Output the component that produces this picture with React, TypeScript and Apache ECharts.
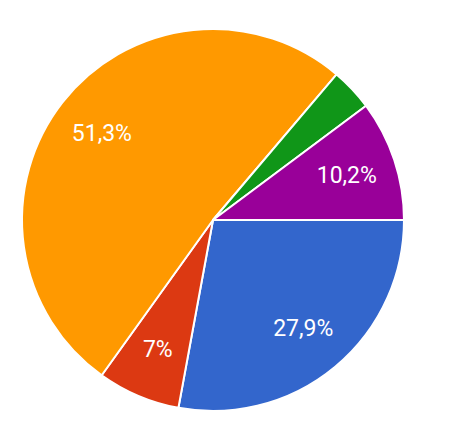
import React, { useEffect, useRef } from "react";
import * as echarts from "echarts";

const categories = ["A", "B", "C", "D", "E"];
const values = [27.9, 7, 51.3, 3.6, 10.2];
const labels = ["27,9%", "7%", "51,3%", "", "10,2%"];
const colors = ["#3366cc", "#dc3912", "#ff9900", "#109618", "#990099"];

export default function App() {
  const ref = useRef<HTMLDivElement>(null);
  useEffect(() => {
    if (!ref.current) return;
    const chart = echarts.init(ref.current, undefined, { renderer: "svg" });
    const data = categories.map((c, i) => ({
      name: c,
      value: values[i],
      itemStyle: { color: colors[i] },
    }));
    chart.setOption({
      animation: false,
      series: [
        {
          type: "pie",
          center: [213, 220],
          radius: [0, 191],
          startAngle: 0,
          clockwise: true,
          silent: true,
          data,
          itemStyle: { borderColor: "#ffffff", borderWidth: 2 },
          label: { show: false },
          labelLine: { show: false },
        },
        {
          type: "pie",
          center: [213, 220],
          radius: [85, 191],
          startAngle: 0,
          clockwise: true,
          silent: true,
          data: categories.map((c, i) => ({
            name: c,
            value: values[i],
            itemStyle: { color: "rgba(0,0,0,0)" },
            label: { formatter: labels[i] },
          })),
          itemStyle: { borderWidth: 0 },
          label: {
            show: true,
            position: "inside",
            color: "#ffffff",
            fontFamily: "Roboto",
            fontSize: 23,
          },
          labelLine: { show: false },
        },
      ],
    });
    return () => chart.dispose();
  }, []);
  return (
    <div
      ref={ref}
      style={{ position: "fixed", left: 0, top: 0, width: 449, height: 423, background: "#fff" }}
    />
  );
}
